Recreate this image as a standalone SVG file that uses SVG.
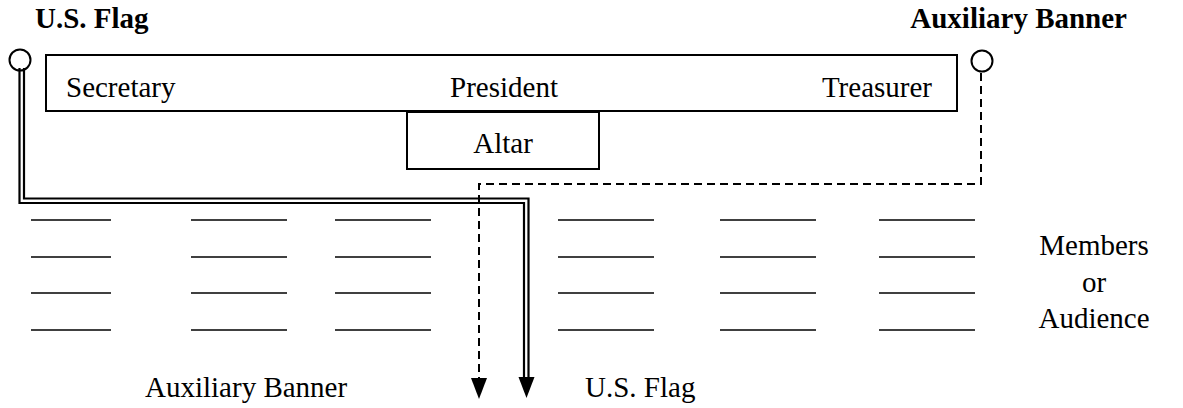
<svg xmlns="http://www.w3.org/2000/svg" width="1183" height="408" viewBox="0 0 1183 408">
<style>
text{font-family:"Liberation Serif","Times New Roman",Times,Tinos,"Nimbus Roman",FreeSerif,"Noto Serif","DejaVu Serif",serif;font-size:29px;fill:#000}
.b{font-weight:bold}
.box{fill:#fff;stroke:#000;stroke-width:2}
.seat{stroke:#000;stroke-width:1.6}
.dbl{fill:none;stroke:#000;stroke-width:2.2}
.dash{fill:none;stroke:#000;stroke-width:2;stroke-dasharray:8,5}
</style>
<rect width="1183" height="408" fill="#fff"/>
<g id="labels-top">
<text class="b" x="35" y="28">U.S. Flag</text>
<text class="b" x="1127" y="28" text-anchor="end">Auxiliary Banner</text>
</g>
<g id="flag-left"><circle cx="20" cy="60" r="10.5" fill="#fff" stroke="#000" stroke-width="2"/></g>
<g id="banner-right"><circle cx="982" cy="61" r="10.5" fill="#fff" stroke="#000" stroke-width="2"/></g>
<g id="head-table">
<rect class="box" x="46" y="55" width="911" height="56"/>
<text x="66" y="97">Secretary</text>
<text x="504" y="97" text-anchor="middle">President</text>
<text x="932" y="97" text-anchor="end">Treasurer</text>
</g>
<g id="altar">
<rect class="box" x="407" y="112" width="192" height="57"/>
<text x="503" y="153" text-anchor="middle">Altar</text>
</g>
<g id="connectors">
<path class="dbl" d="M19.5,68 V203 H524 V378"/>
<path class="dbl" d="M24,68 V198.5 H528.5 V378"/>
<path d="M518.5,377 L534.5,377 L526.5,398 z" fill="#000"/>
<path class="dash" d="M981,73 V184 H479 V380"/>
<path d="M471,378 L487,378 L479,399 z" fill="#000"/>
</g>
<g id="seats">
<line class="seat" x1="31" y1="220" x2="111" y2="220"/>
<line class="seat" x1="31" y1="257" x2="111" y2="257"/>
<line class="seat" x1="31" y1="293" x2="111" y2="293"/>
<line class="seat" x1="31" y1="330" x2="111" y2="330"/>
<line class="seat" x1="191" y1="220" x2="287" y2="220"/>
<line class="seat" x1="191" y1="257" x2="287" y2="257"/>
<line class="seat" x1="191" y1="293" x2="287" y2="293"/>
<line class="seat" x1="191" y1="330" x2="287" y2="330"/>
<line class="seat" x1="335" y1="220" x2="431" y2="220"/>
<line class="seat" x1="335" y1="257" x2="431" y2="257"/>
<line class="seat" x1="335" y1="293" x2="431" y2="293"/>
<line class="seat" x1="335" y1="330" x2="431" y2="330"/>
<line class="seat" x1="558" y1="220" x2="654" y2="220"/>
<line class="seat" x1="558" y1="257" x2="654" y2="257"/>
<line class="seat" x1="558" y1="293" x2="654" y2="293"/>
<line class="seat" x1="558" y1="330" x2="654" y2="330"/>
<line class="seat" x1="720" y1="220" x2="816" y2="220"/>
<line class="seat" x1="720" y1="257" x2="816" y2="257"/>
<line class="seat" x1="720" y1="293" x2="816" y2="293"/>
<line class="seat" x1="720" y1="330" x2="816" y2="330"/>
<line class="seat" x1="879" y1="220" x2="975" y2="220"/>
<line class="seat" x1="879" y1="257" x2="975" y2="257"/>
<line class="seat" x1="879" y1="293" x2="975" y2="293"/>
<line class="seat" x1="879" y1="330" x2="975" y2="330"/>
</g>
<g id="members">
<text x="1094" y="255" text-anchor="middle">Members</text>
<text x="1094" y="292" text-anchor="middle">or</text>
<text x="1094" y="328" text-anchor="middle">Audience</text>
</g>
<g id="labels-bottom">
<text x="145" y="397">Auxiliary Banner</text>
<text x="585" y="397">U.S. Flag</text>
</g>
</svg>
